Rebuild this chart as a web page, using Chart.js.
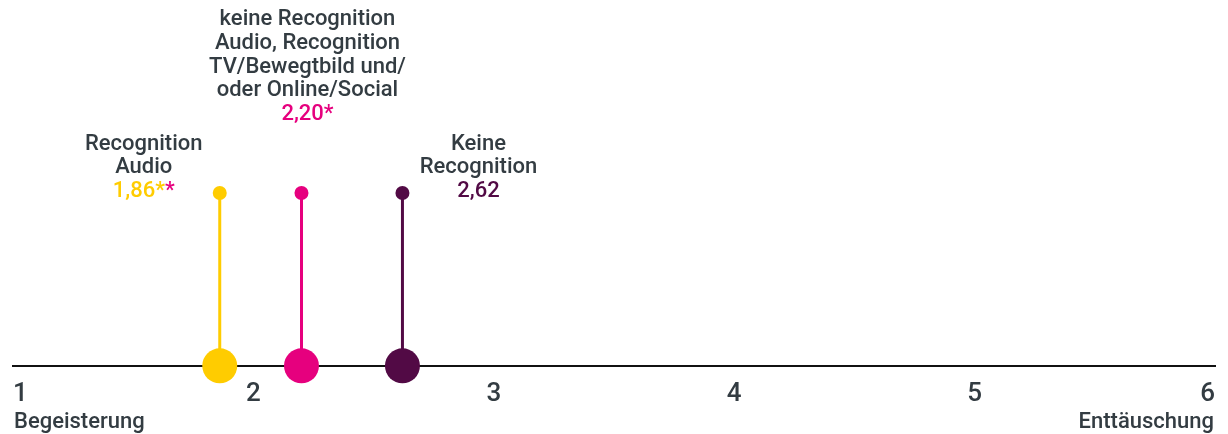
<!DOCTYPE html>
<html lang="de">
<head>
<meta charset="UTF-8">
<title>Recognition – Bewertung</title>
<script src="https://cdn.jsdelivr.net/npm/chart.js@4"></script>
<style>
  body { margin: 0; background: #fff; }
  #wrap { width: 1228px; height: 434px; }
</style>
</head>
<body>
<div id="wrap"><canvas id="chart" width="1228" height="434"></canvas></div>
<script>
// Mittelwerte auf der Skala 1 (Begeisterung) bis 6 (Enttäuschung)
const groups = [
  ['Recognition', 'Audio'],
  ['keine Recognition', 'Audio, Recognition', 'TV/Bewegtbild und/', 'oder Online/Social'],
  ['Keine', 'Recognition']
];
const means = [1.86, 2.20, 2.62];
// Sternchen je Gruppe: Index der Gruppe, in deren Farbe das Sternchen steht
const stars = [[0, 1], [1], []];
const scaleTicks = [1, 2, 3, 4, 5, 6];
const scaleEnds = ['Begeisterung', 'Enttäuschung'];

const colors = ['#ffcc00', '#e6007e', '#520a45'];
const textColor = '#333c42';
const fontFamily = 'Roboto, "Noto Sans", sans-serif';
// Lage des Textblocks zum oberen Punkt
const labelSide = ['left', 'above', 'right'];

const fmt = v => v.toFixed(2).replace('.', ',');

// jede Gruppe als senkrechter Stiel von der Achse (y = 0) bis zum Kopf (y = 1)
const datasets = means.map((v, i) => ({
  data: [{ x: v, y: 0 }, { x: v, y: 1 }],
  borderColor: colors[i],
  borderWidth: 3,
  pointRadius: [17.5, 7],
  pointHoverRadius: [17.5, 7],
  pointBackgroundColor: colors[i],
  pointBorderWidth: 0,
  clip: false
}));

const groupLabels = {
  id: 'groupLabels',
  afterDatasetsDraw(chart) {
    const { ctx, scales: { x, y }, chartArea } = chart;
    const lh = 23.7;
    ctx.save();
    ctx.font = `500 22px ${fontFamily}`;
    ctx.textBaseline = 'alphabetic';

    means.forEach((v, i) => {
      const px = x.getPixelForValue(v);
      const py = y.getPixelForValue(1);
      let cx = px;
      let base = py + 4;
      if (labelSide[i] === 'left') cx = px - 76;
      else if (labelSide[i] === 'right') cx = px + 76;
      else { cx = px + 6; base = py - 73; }

      const lines = groups[i];
      ctx.textAlign = 'center';
      ctx.fillStyle = textColor;
      lines.forEach((t, k) => {
        ctx.fillText(t, cx, base - (lines.length - k) * lh);
      });

      // Wert mit farbigen Sternchen
      const parts = [{ t: fmt(v), c: colors[i] }].concat(stars[i].map(s => ({ t: '*', c: colors[s] })));
      const w = parts.reduce((a, p) => a + ctx.measureText(p.t).width, 0);
      let sx = cx - w / 2;
      ctx.textAlign = 'left';
      parts.forEach(p => {
        ctx.fillStyle = p.c;
        ctx.fillText(p.t, sx, base);
        sx += ctx.measureText(p.t).width;
      });
    });

    // Skalenenden
    ctx.fillStyle = textColor;
    ctx.textAlign = 'left';
    ctx.fillText(scaleEnds[0], x.left + 1, chartArea.bottom + 62);
    ctx.textAlign = 'right';
    ctx.fillText(scaleEnds[1], x.right - 1, chartArea.bottom + 62);
    ctx.restore();
  }
};

new Chart(document.getElementById('chart'), {
  type: 'line',
  data: { datasets },
  options: {
    responsive: false,
    animation: false,
    layout: { autoPadding: false, padding: { left: 6, right: 6, top: 193, bottom: 11 } },
    plugins: { legend: { display: false }, tooltip: { enabled: false } },
    scales: {
      x: {
        type: 'linear',
        min: scaleTicks[0],
        max: scaleTicks[scaleTicks.length - 1],
        afterBuildTicks: axis => { axis.ticks = scaleTicks.map(value => ({ value })); },
        grid: { display: false, drawTicks: false },
        border: { display: true, color: '#111', width: 2 },
        ticks: {
          align: 'inner',
          padding: 13,
          color: textColor,
          font: { family: fontFamily, size: 26, weight: '500' },
          callback: v => String(v)
        }
      },
      y: {
        display: false,
        min: 0,
        max: 1
      }
    }
  },
  plugins: [groupLabels]
});
</script>
</body>
</html>
